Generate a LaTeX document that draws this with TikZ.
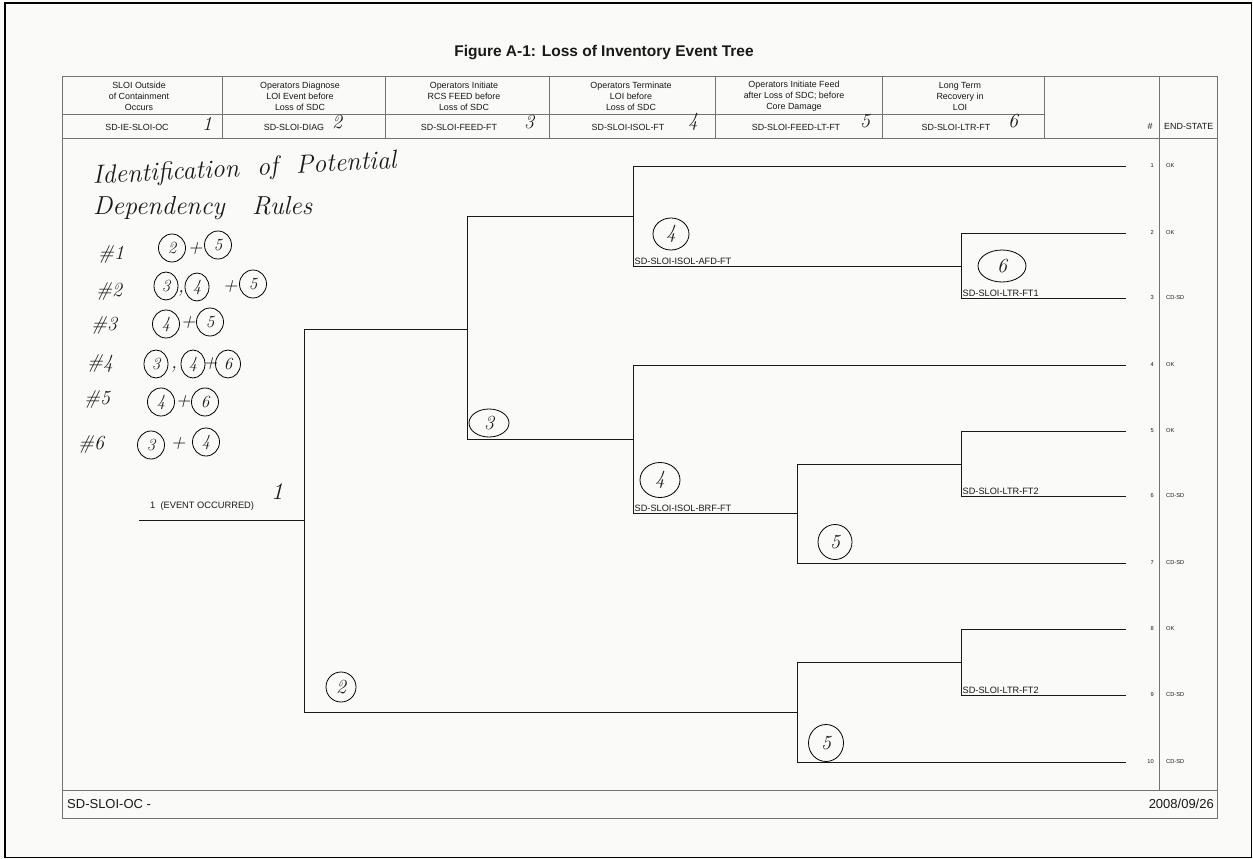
\documentclass[tikz,border=0pt]{standalone}
\usepackage{fontspec}
\newfontfamily\arial{Liberation Sans}
\usetikzlibrary{shapes.geometric}
\definecolor{paper}{RGB}{250,250,248}
\definecolor{ink}{RGB}{25,25,25}
\begin{document}
\begin{tikzpicture}[x=1pt,y=-1pt,
  tree/.style={line width=0.9pt, ink},
  grid/.style={line width=0.6pt, black!55},
  hdr/.style={font=\arial\fontsize{8.9}{11}\selectfont, align=center, text=ink, inner sep=0pt},
  lbl/.style={font=\arial\fontsize{9.2}{10}\selectfont, anchor=south west, inner sep=1.5pt, text=ink},
  rownum/.style={font=\arial\fontsize{5.7}{6}\selectfont, anchor=east, inner sep=0pt, text=ink},
  endst/.style={font=\arial\fontsize{5.7}{6}\selectfont, anchor=west, inner sep=0pt, text=ink},
  hw/.style={font=\fontsize{20}{22}\selectfont\itshape, inner sep=0pt, text=ink},
  cnum/.style={hw, draw, ellipse, minimum width=30pt, minimum height=30pt, line width=0.8pt},
  scnum/.style={hw, font=\fontsize{17}{18}\selectfont\itshape, draw, ellipse, minimum width=27pt, minimum height=28pt, line width=0.8pt},
]
\useasboundingbox (0,0) rectangle (1253,859);
\fill[paper] (0,0) rectangle (1253,859);
\draw[line width=1.2pt] (5,3) rectangle (1251.5,857.5);

% title
\node[font=\arial\bfseries\fontsize{15.5}{18}\selectfont, text=ink] (title) at (604,53) {Figure A-1: Loss of Inventory Event Tree};

% header table and frame
\draw[grid] (62,76) rectangle (1217,818);
\draw[grid] (62,138) -- (1217,138);
\draw[grid] (62,114) -- (1044,114);
\foreach \x in {222,385,549,715,882,1044} \draw[grid] (\x,76) -- (\x,138);
\draw[grid] (1159,76) -- (1159,790);
\draw[grid] (62,790) -- (1217,790);

\node[hdr] (h1) at (139,96) {SLOI Outside\\of Containment\\Occurs};
\node[hdr] (h2) at (300,96) {Operators Diagnose\\LOI Event before\\Loss of SDC};
\node[hdr] (h3) at (464,96) {Operators Initiate\\RCS FEED before\\Loss of SDC};
\node[hdr] (h4) at (631,96) {Operators Terminate\\LOI before\\Loss of SDC};
\node[hdr] (h5) at (794,96) {Operators Initiate Feed\\after Loss of SDC; before\\Core Damage};
\node[hdr] (h6) at (960,96) {Long Term\\Recovery in\\LOI};

\node[hdr] (id1) at (137,127) {SD-IE-SLOI-OC};
\node[hdr] (id2) at (294,127) {SD-SLOI-DIAG};
\node[hdr] (id3) at (459,127) {SD-SLOI-FEED-FT};
\node[hdr] (id4) at (628,127) {SD-SLOI-ISOL-FT};
\node[hdr] (id5) at (796,127) {SD-SLOI-FEED-LT-FT};
\node[hdr] (id6) at (956,127) {SD-SLOI-LTR-FT};
\node[hdr] (hnum) at (1150,126) {\#};
\node[hdr, anchor=west] (hes) at (1164,126) {END-STATE};

% handwritten header numbers
\node[hw] (d1) at (207,124) {1};
\node[hw] (d2) at (337,122) {2};
\node[hw] (d3) at (529,122) {3};
\node[hw] (d4) at (693,122) {4};
\node[hw] (d5) at (865,121) {5};
\node[hw] (d6) at (1013,121) {6};

% tree coordinates
\coordinate (ie) at (139,520);
\coordinate (j1) at (304,520);
\coordinate (j3) at (467,329);
\coordinate (j4a) at (633,216);
\coordinate (j4b) at (633,439);
\coordinate (j6a) at (961,266);
\coordinate (j5a) at (797,513);
\coordinate (j6b) at (961,464);
\coordinate (j5c) at (797,712);
\coordinate (j6c) at (961,662);
\foreach \i/\y in {1/166,2/233,3/298,4/365,5/431,6/496,7/563,8/629,9/695,10/762}{
  \coordinate (e\i) at (1126,\y);
  \node[rownum] (r\i) at (1154,\y) {\i};
}
\node[endst] (s1) at (1166,166) {OK};
\node[endst] (s2) at (1166,233) {OK};
\node[endst] (s3) at (1166,298) {CD-SD};
\node[endst] (s4) at (1166,365) {OK};
\node[endst] (s5) at (1166,431) {OK};
\node[endst] (s6) at (1166,496) {CD-SD};
\node[endst] (s7) at (1166,563) {CD-SD};
\node[endst] (s8) at (1166,629) {OK};
\node[endst] (s9) at (1166,695) {CD-SD};
\node[endst] (s10) at (1166,762) {CD-SD};

% tree branches
\draw[tree] (ie) -- (j1);
\draw[tree] (j1) |- (j3);
\draw[tree] (j1) |- (j5c);
\draw[tree] (j3) |- (j4a);
\draw[tree] (j3) |- (j4b);
\draw[tree] (j4a) |- (e1);
\draw[tree] (j4a) |- (j6a);
\draw[tree] (j6a) |- (e2);
\draw[tree] (j6a) |- (e3);
\draw[tree] (j4b) |- (e4);
\draw[tree] (j4b) |- (j5a);
\draw[tree] (j5a) |- (j6b);
\draw[tree] (j5a) |- (e7);
\draw[tree] (j6b) |- (e5);
\draw[tree] (j6b) |- (e6);
\draw[tree] (j5c) |- (j6c);
\draw[tree] (j5c) |- (e10);
\draw[tree] (j6c) |- (e8);
\draw[tree] (j6c) |- (e9);

% branch labels
\node[font=\arial\fontsize{9.3}{10}\selectfont, anchor=base west, inner sep=0pt, text=ink] (ielbl) at (150,508) {1\ \ (EVENT OCCURRED)};
\node[lbl] (l1) at (j6a -| j4a) {SD-SLOI-ISOL-AFD-FT};
\node[lbl] (l2) at (j5a -| j4b) {SD-SLOI-ISOL-BRF-FT};
\node[lbl] (l3) at (e3 -| j6a) {SD-SLOI-LTR-FT1};
\node[lbl] (l4) at (e6 -| j6b) {SD-SLOI-LTR-FT2};
\node[lbl] (l5) at (e9 -| j6c) {SD-SLOI-LTR-FT2};

% handwritten marks in the tree
\node[hw, font=\fontsize{24}{24}\selectfont\itshape] (one) at (277,492) {1};
\node[cnum] (t2) at (341,687) {2};
\node[cnum, minimum width=40pt, minimum height=28pt] (t3) at (489,423) {3};
\node[cnum, minimum width=36pt, minimum height=32pt] (t4a) at (671,234) {4};
\node[cnum, minimum width=40pt, minimum height=35pt] (t4b) at (660,480) {4};
\node[cnum, minimum width=34pt, minimum height=35pt] (t5a) at (835,542) {5};
\node[cnum, minimum width=35pt, minimum height=37pt] (t5b) at (826,743) {5};
\node[cnum, minimum width=48pt, minimum height=32pt] (t6) at (1002,266) {6};

% handwritten dependency rules
\node[hw, font=\fontsize{26}{26}\selectfont\itshape, anchor=base west, rotate=3] (n1) at (93,184) {Identification\ \ of\ \ Potential};
\node[hw, font=\fontsize{26}{26}\selectfont\itshape, anchor=base west] (n2) at (93,214) {Dependency\ \ \ Rules};

\node[hw] (p1) at (111,254) {\#1};
\node[scnum] (p1a) at (172,248) {2};
\node[hw] (p1b) at (195,249) {+};
\node[scnum] (p1c) at (218,245) {5};

\node[hw] (p2) at (109,291) {\#2};
\node[scnum, minimum width=24pt] (p2a) at (166,286) {3};
\node[hw] (p2b) at (181,293) {,};
\node[scnum, minimum width=24pt] (p2c) at (197,287) {4};
\node[hw] (p2d) at (230,287) {+};
\node[scnum] (p2e) at (253,284) {5};

\node[hw] (p3) at (104,325) {\#3};
\node[scnum] (p3a) at (166,324) {4};
\node[hw] (p3b) at (188,323) {+};
\node[scnum] (p3c) at (210,322) {5};

\node[hw] (p4) at (100,363) {\#4};
\node[scnum, minimum width=24pt] (p4a) at (156,364) {3};
\node[hw] (p4b) at (174,369) {,};
\node[scnum, minimum width=24pt] (p4c) at (193,364) {4};
\node[hw] (p4d) at (210,364) {+};
\node[scnum, minimum width=25pt] (p4e) at (228,364) {6};

\node[hw] (p5) at (97,399) {\#5};
\node[scnum] (p5a) at (161,402) {4};
\node[hw] (p5b) at (183,402) {+};
\node[scnum] (p5c) at (205,402) {6};

\node[hw] (p6) at (91,444) {\#6};
\node[scnum] (p6a) at (151,445) {3};
\node[hw] (p6b) at (178,444) {+};
\node[scnum] (p6c) at (206,442) {4};

% footer
\node[font=\arial\fontsize{13}{15}\selectfont, anchor=west, inner sep=0pt, text=ink] (f1) at (67,804) {SD-SLOI-OC -};
\node[font=\arial\fontsize{13}{15}\selectfont, anchor=east, inner sep=0pt, text=ink] (f2) at (1214,804) {2008/09/26};
\end{tikzpicture}
\end{document}
